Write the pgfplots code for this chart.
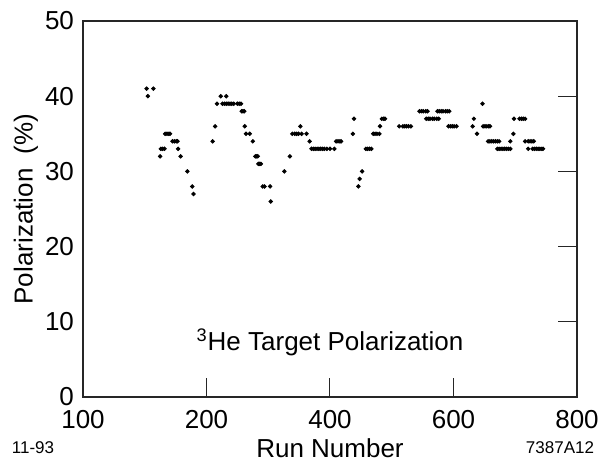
\documentclass[border=0pt]{standalone}
\usepackage{pgfplots}
\pgfplotsset{compat=1.18}
\usepackage{pgfplotstable}
\usepackage{fontspec}
\setmainfont{Liberation Sans}

% Polarization readings per run (run, percent)
\pgfplotstableread{
run pol
103 41
114 41
105 40
223 40
232 40
217 39
226 39
229 39
232 39
235 39
238 39
241 39
244 39
250 39
253 39
256 39
257 38
259 38
261 38
214 36
262 36
133 35
136 35
139 35
141 35
264 35
270 35
145 34
148 34
151 34
153 34
210 34
275 34
126 33
129 33
132 33
154 33
125 32
158 32
169 30
177 28
179 27
279 32
281 32
283 32
284 31
286 31
288 31
291 28
294 28
303 28
304 26
326 30
335 32
339 35
343 35
346 35
349 35
354 35
352 36
362 35
367 34
370 33
373 33
376 33
379 33
382 33
385 33
388 33
391 33
395 33
400 33
407 33
410 34
413 34
416 34
418 34
439 37
437 35
446 28
448 29
452 30
458 33
461 33
464 33
467 33
470 35
473 35
476 35
480 35
481 36
484 37
487 37
489 37
512 36
518 36
521 36
524 36
527 36
531 36
545 38
548 38
551 38
555 38
558 38
556 37
559 37
562 37
566 37
569 37
573 37
576 37
574 38
577 38
580 38
583 38
587 38
590 38
593 38
592 36
595 36
598 36
601 36
605 36
647 39
633 37
631 36
648 36
651 36
654 36
657 36
659 36
638 35
656 34
659 34
662 34
665 34
668 34
671 34
674 34
671 33
674 33
677 33
680 33
683 33
686 33
689 33
692 33
692 34
697 35
698 37
707 37
710 37
713 37
716 37
716 34
721 34
724 34
727 34
730 34
721 33
728 33
731 33
734 33
737 33
740 33
743 33
745 33
}\poldata

\begin{document}
\begin{tikzpicture}
\begin{axis}[
  at={(0,0)}, anchor=south west,
  scale only axis,
  width=247pt, height=188pt,
  xmin=0, xmax=800, ymin=0, ymax=50,
  xtick={0,200,400,600,800},
  xticklabels={100,200,400,600,800},
  ytick={0,10,20,30,40,50},
  xtick pos=bottom,
  ytick pos=right,
  yticklabel pos=left,
  tick align=inside,
  major tick length=9.5pt,
  tick style={line width=0.5pt, black!85},
  axis line style={line width=0.8pt, black!85},
  /pgf/number format/assume math mode=true,
  ticklabel style={font=\fontsize{13}{15}\selectfont},
  xticklabel style={yshift=-3.3pt},
  yticklabel style={xshift=-1pt},
  xlabel={Run Number},
  ylabel={Polarization\ \ (\%)},
  label style={font=\fontsize{13}{15}\selectfont},
  xlabel style={at={(axis description cs:0.5,-0.1356)}, anchor=center},
  ylabel style={at={(axis description cs:-0.1154,0.5)}, anchor=center},
  clip=false,
]
\addplot[only marks, mark=*, mark size=0.9pt, black] table[x=run, y=pol] {\poldata};
\node[font=\fontsize{13}{15}\selectfont, anchor=center] at (axis cs:400,7.3)
  {\textsuperscript{3}He Target Polarization};
\node[font=\fontsize{8.5}{10}\selectfont, anchor=center] at (axis description cs:-0.1012,-0.1356) {11-93};
\node[font=\fontsize{8.5}{10}\selectfont, anchor=center] at (axis description cs:0.9656,-0.1356) {7387A12};
\end{axis}
\pgfresetboundingbox
\path (-41.5pt,-36.5pt) rectangle (258.5pt,198.5pt);
\end{tikzpicture}
\end{document}
